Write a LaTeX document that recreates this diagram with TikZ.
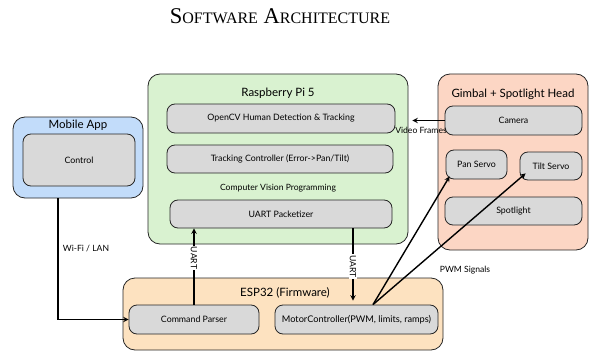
\documentclass[tikz,border=0pt]{standalone}
\usepackage{fontspec}
\setsansfont{Lato}
\newfontfamily\titlefont{Liberation Serif}
\usetikzlibrary{positioning, arrows, shapes}
\definecolor{piGreen}{RGB}{217,242,208}
\definecolor{appBlue}{RGB}{194,220,250}
\definecolor{headPeach}{RGB}{252,214,196}
\definecolor{espOrange}{RGB}{253,226,192}
\definecolor{blockGray}{RGB}{217,217,217}
\newcommand{\titlebig}[1]{{\fontsize{22.5}{24}\selectfont #1}}
\newcommand{\titlesmall}[1]{{\fontsize{16}{18}\selectfont #1}}

\begin{document}
\begin{tikzpicture}[x=1pt,y=-1pt,
  group/.style={draw=black!85, rounded corners=12pt, line width=0.8pt},
  block/.style={draw=black!85, fill=blockGray, rounded corners=8pt, line width=0.8pt, inner sep=0pt, font=\sffamily\fontsize{8.8}{10}\selectfont},
  grouptitle/.style={font=\sffamily\fontsize{11.5}{13}\selectfont},
  note/.style={font=\sffamily\fontsize{8.6}{10}\selectfont, inner sep=1pt},
  wire/.style={line width=1.4pt, -stealth}]
\useasboundingbox (0,0) rectangle (592,353);

\node[anchor=base, font=\titlefont] (title) at (280,24) {\titlebig{S}\titlesmall{OFTWARE}\titlebig{\ A}\titlesmall{RCHITECTURE}};

\node[group, fill=appBlue, minimum width=130pt, minimum height=81pt] (app) at (78,157.5) {};
\node[grouptitle] (apptitle) at (78,125) {Mobile App};
\node[block, minimum width=112pt, minimum height=52pt] (control) at (79,160) {Control};

\node[group, fill=piGreen, minimum width=260pt, minimum height=170pt] (pi) at (278,159) {};
\node[grouptitle] (pititle) at (278,93) {Raspberry Pi 5};
\node[block, minimum width=228pt, minimum height=29pt] (opencv) at (281,118.5) {OpenCV Human Detection \& Tracking};
\node[block, minimum width=226pt, minimum height=28pt] (tracking) at (280,159) {Tracking Controller (Error->Pan/Tilt)};
\node[note] (cvprog) at (278,188) {Computer Vision Programming};
\node[block, minimum width=222pt, minimum height=28pt] (uart) at (281,214) {UART Packetizer};

\node[group, fill=headPeach, minimum width=150pt, minimum height=176pt] (head) at (513,162) {};
\node[grouptitle] (headtitle) at (513,94) {Gimbal + Spotlight Head};
\node[block, minimum width=137pt, minimum height=29pt] (camera) at (513.5,120.5) {Camera};
\node[block, minimum width=61pt, minimum height=29pt] (pan) at (476.5,164.5) {Pan Servo};
\node[block, minimum width=62pt, minimum height=28pt] (tilt) at (551,166) {Tilt Servo};
\node[block, minimum width=137pt, minimum height=28pt] (spot) at (513.5,211) {Spotlight};

\node[group, fill=espOrange, minimum width=320pt, minimum height=72pt] (esp) at (283,314) {};
\node[grouptitle] (esptitle) at (285,293) {ESP32 (Firmware)};
\node[block, minimum width=130pt, minimum height=29pt] (cmd) at (194,319.5) {Command Parser};
\node[block, minimum width=163pt, minimum height=29pt, font=\sffamily\fontsize{9.2}{11}\selectfont] (motor) at (356.5,319.5) {MotorController(PWM, limits, ramps)};

\draw[wire] ([xshift=-20pt]app.south) |- (cmd.west);
\node[note] (wifi) at (86,249) {Wi-Fi / LAN};

\draw[wire] (cmd.north) -- (cmd.north |- uart.south)
  node[pos=0.61, note, fill=white, rotate=-90] (uartup) {UART};
\draw[wire, shorten >=4pt] ([xshift=-3.5pt]motor.north |- uart.south) -- ([xshift=-3.5pt]motor.north)
  node[pos=0.5, note, fill=white, rotate=-90] (uartdown) {UART};

\draw[wire, shorten >=17pt] (camera.west) -- (camera.west -| opencv.east);
\node[note] (video) at (421,130) {Video Frames};

\draw[wire] ([xshift=16.5pt]motor.north) -- ([shift={(4pt,3pt)}]pan.south west);
\draw[wire] ([xshift=16.5pt]motor.north) -- ([shift={(6pt,7pt)}]tilt.south west);
\node[note] (pwm) at (465,270) {PWM Signals};
\end{tikzpicture}
\end{document}
